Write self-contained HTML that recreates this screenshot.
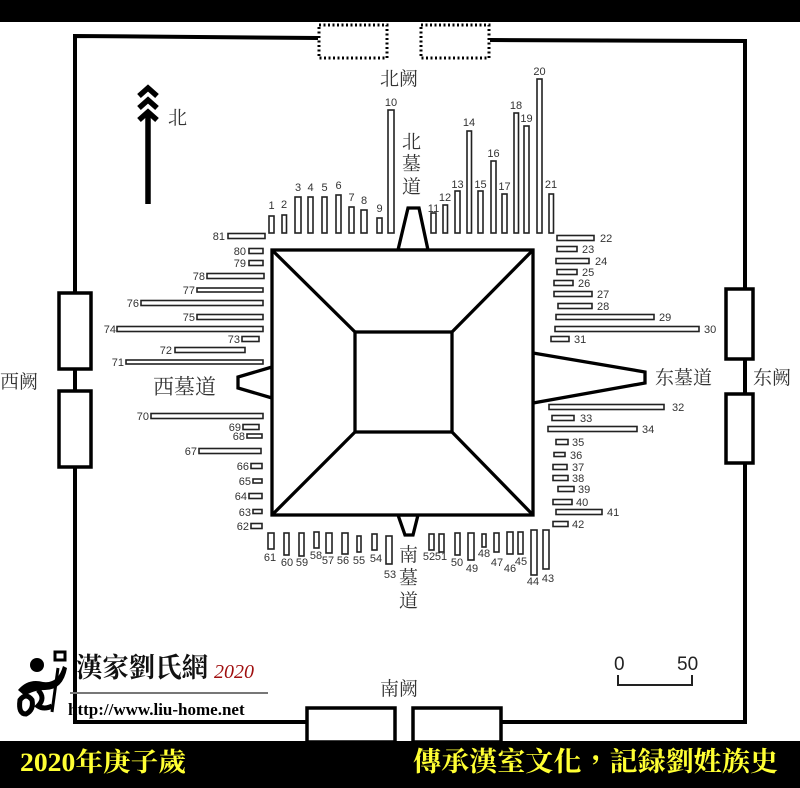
<!DOCTYPE html>
<html><head><meta charset="utf-8"><style>
html,body{margin:0;padding:0;background:#fff;width:800px;height:788px;overflow:hidden}
svg{display:block}
.n{font-family:"Liberation Sans",sans-serif;font-size:11px;fill:#333}
.c{font-family:"Liberation Serif","Noto Serif CJK SC",serif;fill:#333}
</style></head><body>
<svg width="800" height="788" viewBox="0 0 800 788" xmlns="http://www.w3.org/2000/svg">
<rect x="0" y="0" width="800" height="22" fill="#000"/>
<g fill="none" stroke="#000" stroke-width="4">
<polyline points="318,38 75,36 75,722 307,722"/>
<polyline points="490,40 745,41 745,722 500,722"/>
</g>
<g fill="#fff" stroke="#000" stroke-width="3.5">
<rect x="59" y="293" width="32" height="76"/>
<rect x="59" y="391" width="32" height="76"/>
<rect x="726" y="289" width="27" height="70"/>
<rect x="726" y="394" width="27" height="69"/>
<rect x="307" y="708" width="88" height="34"/>
<rect x="413" y="708" width="88" height="34"/>
</g>
<g fill="#fff" stroke="#000" stroke-width="3" stroke-dasharray="2,2.5">
<rect x="319" y="25" width="68" height="33"/>
<rect x="421" y="25" width="68" height="33"/>
</g>
<g fill="#fff" stroke="#000" stroke-width="3.3" stroke-linejoin="miter">
<polygon points="398,250 408,208 419,208 428,250"/>
<polygon points="272,367 238,377 238,388 272,398"/>
<polygon points="533,353 645,372 645,383 533,403"/>
<polygon points="398,515 405,535 413,535 418,515"/>
<rect x="272" y="250" width="261" height="265"/>
<rect x="355" y="332" width="97" height="100"/>
<line x1="272" y1="250" x2="355" y2="332"/>
<line x1="533" y1="250" x2="452" y2="332"/>
<line x1="272" y1="515" x2="355" y2="432"/>
<line x1="533" y1="515" x2="452" y2="432"/>
</g>
<g fill="#fff" stroke="#222" stroke-width="1.6">
<rect x="269" y="216" width="5" height="17"/>
<rect x="282" y="215" width="4.5" height="18"/>
<rect x="295" y="197" width="6" height="36"/>
<rect x="308" y="197" width="5" height="36"/>
<rect x="322" y="197" width="5" height="36"/>
<rect x="336" y="195" width="5" height="38"/>
<rect x="349" y="207" width="5" height="26"/>
<rect x="361" y="210" width="6" height="23"/>
<rect x="377" y="218" width="5" height="15"/>
<rect x="388" y="110" width="6" height="123"/>
<rect x="431" y="213" width="5" height="20"/>
<rect x="443" y="205" width="4.5" height="28"/>
<rect x="455" y="191" width="5" height="42"/>
<rect x="467" y="131" width="4.5" height="102"/>
<rect x="478" y="191" width="5" height="42"/>
<rect x="491" y="161" width="5" height="72"/>
<rect x="502" y="194" width="5" height="39"/>
<rect x="514" y="113" width="4.5" height="120"/>
<rect x="524" y="126" width="5" height="107"/>
<rect x="537" y="79" width="5" height="154"/>
<rect x="549" y="194" width="4.5" height="39"/>
</g>
<g class="n" text-anchor="middle">
<text x="271.5" y="209">1</text><text x="284" y="208">2</text><text x="298" y="191">3</text><text x="310.5" y="191">4</text><text x="324.5" y="191">5</text><text x="338.5" y="189">6</text><text x="351.5" y="201">7</text><text x="364" y="204">8</text><text x="379.5" y="212">9</text><text x="391" y="106">10</text><text x="433.5" y="212">11</text><text x="445" y="201">12</text><text x="457.5" y="188">13</text><text x="469" y="126">14</text><text x="480.5" y="188">15</text><text x="493.5" y="157">16</text><text x="504.5" y="190">17</text><text x="516" y="109">18</text><text x="526.5" y="122">19</text><text x="539.5" y="75">20</text><text x="551" y="188">21</text>
</g>
<g fill="#fff" stroke="#222" stroke-width="1.6">
<rect x="557" y="235.5" width="37" height="5"/>
<rect x="557" y="246.5" width="20" height="5"/>
<rect x="556" y="258.5" width="33" height="5"/>
<rect x="557" y="269.5" width="20" height="5"/>
<rect x="554" y="280.5" width="19" height="5"/>
<rect x="554" y="291.5" width="38" height="5"/>
<rect x="558" y="303.5" width="34" height="5"/>
<rect x="556" y="314.5" width="98" height="5"/>
<rect x="555" y="326.5" width="144" height="5"/>
<rect x="551" y="336.5" width="18" height="5"/>
<rect x="549" y="404.5" width="115" height="5"/>
<rect x="552" y="415.5" width="22" height="5"/>
<rect x="548" y="426.5" width="89" height="5"/>
<rect x="556" y="439.5" width="12" height="5"/>
<rect x="554" y="452.5" width="11" height="4"/>
<rect x="553" y="464.5" width="14" height="5"/>
<rect x="553" y="475.5" width="15" height="5"/>
<rect x="558" y="486.5" width="16" height="5"/>
<rect x="553" y="499.5" width="19" height="5"/>
<rect x="556" y="509.5" width="46" height="5"/>
<rect x="553" y="521.5" width="15" height="5"/>
</g>
<g class="n">
<text x="600" y="242">22</text><text x="582" y="253">23</text><text x="595" y="265">24</text><text x="582" y="276">25</text><text x="578" y="287">26</text><text x="597" y="298">27</text><text x="597" y="310">28</text><text x="659" y="321">29</text><text x="704" y="333">30</text><text x="574" y="343">31</text><text x="672" y="411">32</text><text x="580" y="422">33</text><text x="642" y="433">34</text><text x="572" y="446">35</text><text x="570" y="459">36</text><text x="572" y="471">37</text><text x="572" y="482">38</text><text x="578" y="493">39</text><text x="576" y="506">40</text><text x="607" y="516">41</text><text x="572" y="528">42</text>
</g>
<g fill="#fff" stroke="#222" stroke-width="1.6">
<rect x="228" y="233.5" width="37" height="5"/>
<rect x="249" y="248.5" width="14" height="5"/>
<rect x="249" y="260.5" width="14" height="5"/>
<rect x="207" y="273.5" width="57" height="5"/>
<rect x="197" y="288" width="66" height="4"/>
<rect x="141" y="300.5" width="122" height="5"/>
<rect x="197" y="314.5" width="66" height="5"/>
<rect x="117" y="326.5" width="146" height="5"/>
<rect x="242" y="336.5" width="17" height="5"/>
<rect x="175" y="347.5" width="70" height="5"/>
<rect x="126" y="360" width="137" height="4"/>
<rect x="151" y="413.5" width="112" height="5"/>
<rect x="243" y="424.5" width="16" height="5"/>
<rect x="247" y="434" width="15" height="4"/>
<rect x="199" y="448.5" width="62" height="5"/>
<rect x="251" y="463.5" width="11" height="5"/>
<rect x="253" y="479" width="9" height="4"/>
<rect x="249" y="493.5" width="13" height="5"/>
<rect x="253" y="509.5" width="9" height="4"/>
<rect x="251" y="523.5" width="11" height="5"/>
</g>
<g class="n" text-anchor="end">
<text x="225" y="240">81</text><text x="246" y="255">80</text><text x="246" y="267">79</text><text x="205" y="280">78</text><text x="195" y="294">77</text><text x="139" y="307">76</text><text x="195" y="321">75</text><text x="116" y="333">74</text><text x="240" y="343">73</text><text x="172" y="354">72</text><text x="124" y="366">71</text><text x="149" y="420">70</text><text x="241" y="431">69</text><text x="245" y="440">68</text><text x="197" y="455">67</text><text x="249" y="470">66</text><text x="251" y="485">65</text><text x="247" y="500">64</text><text x="251" y="516">63</text><text x="249" y="530">62</text>
</g>
<g fill="#fff" stroke="#222" stroke-width="1.6">
<rect x="268" y="533" width="6" height="16"/>
<rect x="284" y="533" width="5" height="22"/>
<rect x="299" y="533" width="5" height="23"/>
<rect x="314" y="532" width="5" height="16"/>
<rect x="326" y="533" width="6" height="20"/>
<rect x="342" y="533" width="6" height="21"/>
<rect x="357" y="536" width="4" height="16"/>
<rect x="372" y="534" width="5" height="16"/>
<rect x="386" y="536" width="6" height="28"/>
<rect x="429" y="534" width="5" height="16"/>
<rect x="439" y="534" width="5" height="18"/>
<rect x="455" y="533" width="5" height="22"/>
<rect x="468" y="533" width="6" height="27"/>
<rect x="482" y="534" width="4" height="13"/>
<rect x="494" y="533" width="5" height="19"/>
<rect x="507" y="532" width="6" height="22"/>
<rect x="518" y="532" width="5" height="22"/>
<rect x="531" y="530" width="6" height="45"/>
<rect x="543" y="530" width="6" height="39"/>
</g>
<g class="n" text-anchor="middle">
<text x="270" y="561">61</text><text x="287" y="566">60</text><text x="302" y="566">59</text><text x="316" y="559">58</text><text x="328" y="564">57</text><text x="343" y="564">56</text><text x="359" y="564">55</text><text x="376" y="562">54</text><text x="390" y="578">53</text><text x="429" y="560">52</text><text x="441" y="560">51</text><text x="457" y="566">50</text><text x="472" y="572">49</text><text x="484" y="557">48</text><text x="497" y="566">47</text><text x="510" y="572">46</text><text x="521" y="565">45</text><text x="533" y="585">44</text><text x="548" y="582">43</text>
</g>
<g class="c" font-size="19">
<text x="380" y="85">北阙</text>
<text x="380" y="695">南阙</text>
<text x="0" y="388">西阙</text>
<text x="753" y="384">东阙</text>
<text x="655" y="384">东墓道</text>
<text x="153" y="394" font-size="21">西墓道</text>
<text x="402" y="148">北</text><text x="402" y="170">墓</text><text x="402" y="193">道</text>
<text x="399" y="561">南</text><text x="399" y="584">墓</text><text x="399" y="607">道</text>
<text x="168" y="124">北</text>
</g>
<g fill="none" stroke="#000" stroke-width="5.5">
<line x1="148" y1="112" x2="148" y2="204"/>
<polyline points="139,96 148,88 157,96"/>
<polyline points="139,108 148,100 157,108"/>
<polyline points="139,120 148,112 157,120"/>
</g>
<text x="614" y="670" font-family="Liberation Sans,sans-serif" font-size="19" fill="#222">0</text>
<text x="677" y="670" font-family="Liberation Sans,sans-serif" font-size="19" fill="#222">50</text>
<polyline points="618,675 618,685 692,685 692,675" fill="none" stroke="#222" stroke-width="2"/>
<g fill="#000">
<circle cx="37" cy="665" r="7"/>
<path d="M18,690 q10,-12 25,-8 q15,2 20,-16 l4,2 q-4,22 -22,22 q-12,0 -20,6z"/>
<path d="M20,700 q6,-8 12,0 q2,10 -6,14 q-8,0 -6,-14z" fill="none" stroke="#000" stroke-width="5"/>
<path d="M38,690 q8,8 0,16 q6,4 14,0" fill="none" stroke="#000" stroke-width="5"/>
<line x1="58" y1="668" x2="52" y2="712" stroke="#000" stroke-width="3"/>
<rect x="55" y="652" width="10" height="8" fill="none" stroke="#000" stroke-width="3"/>
</g>
<line x1="70" y1="693" x2="268" y2="693" stroke="#777" stroke-width="2"/>
<text x="76" y="677" font-family="Liberation Serif,'Noto Serif CJK TC',serif" font-size="27" font-weight="bold" fill="#111" textLength="132" lengthAdjust="spacingAndGlyphs">漢家劉氏網</text>
<text x="214" y="678" font-family="Liberation Serif,serif" font-size="20" font-style="italic" fill="#a01010">2020</text>
<text x="68" y="715" font-family="Liberation Serif,serif" font-size="17" font-weight="bold" fill="#000">http://www.liu-home.net</text>
<rect x="0" y="741" width="800" height="47" fill="#000"/>
<text x="20" y="771" font-family="Liberation Serif,'Noto Serif CJK TC',serif" font-size="26" font-weight="bold" fill="#ffff33" textLength="166" lengthAdjust="spacingAndGlyphs">2020年庚子歲</text>
<text x="413" y="771" font-family="Liberation Serif,'Noto Serif CJK TC',serif" font-size="27" font-weight="bold" fill="#ffff33" textLength="365" lengthAdjust="spacingAndGlyphs">傳承漢室文化，記録劉姓族史</text>
</svg>
</body></html>
